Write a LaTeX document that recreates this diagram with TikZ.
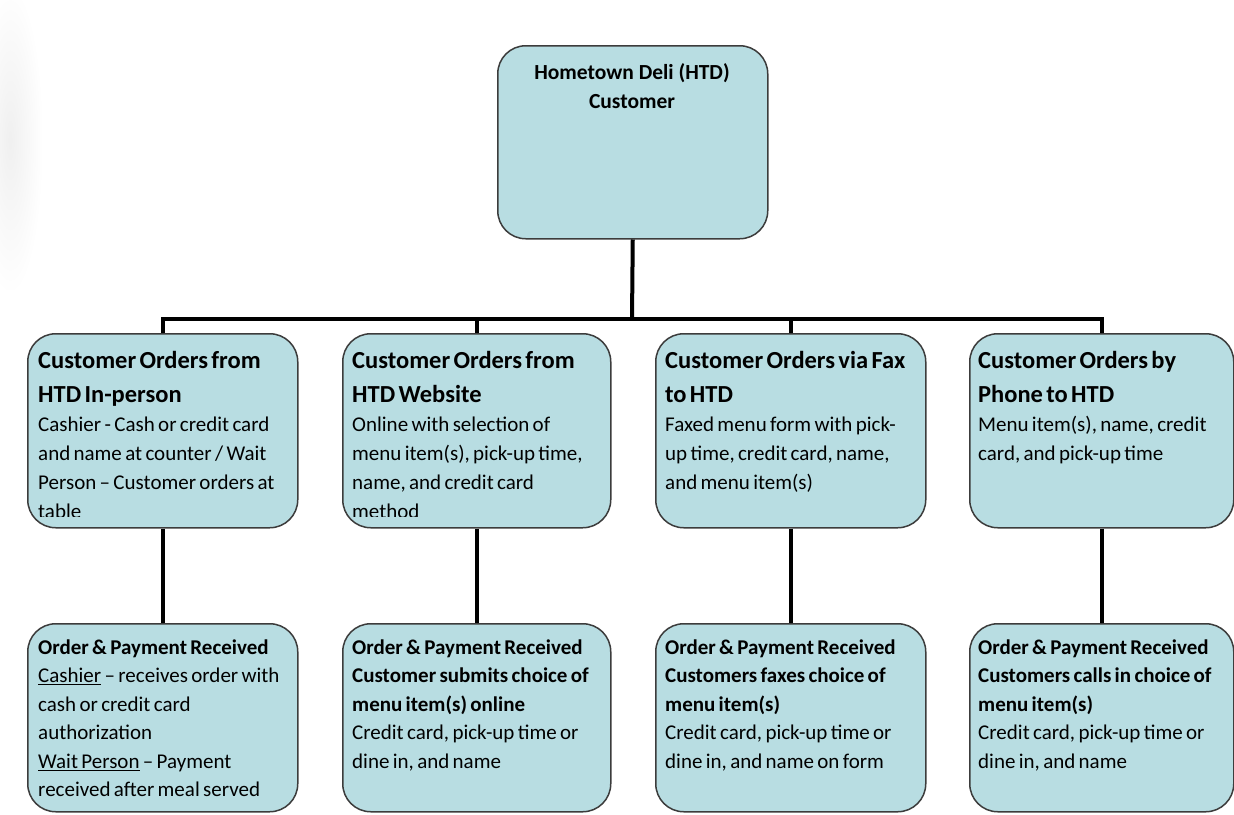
\documentclass[tikz,border=0pt]{standalone}
\usepackage{fontspec}
\setmainfont{Carlito}
\usetikzlibrary{fadings}
\definecolor{boxfill}{HTML}{B8DDE2}
\definecolor{boxline}{HTML}{3C3C3C}
\newcommand\mytitle{\fontsize{24.5}{34}\selectfont\bfseries}
\newcommand\mybody{\fontsize{21}{29}\selectfont}
\newcommand\mylow{\fontsize{21}{28.5}\selectfont}
\tikzfading[name=softedge, inner color=transparent!0, outer color=transparent!100]
\tikzset{
  box/.style={draw=boxline, line width=1.5pt, fill=boxfill, rounded corners=28pt,
              inner sep=0pt, anchor=north west},
  lvltwo/.style={box, minimum width=270pt, minimum height=194pt},
  lvlthree/.style={box, minimum width=270pt, minimum height=188pt},
  conn/.style={line width=4pt, draw=black},
  txt/.style={anchor=north west, inner sep=0pt, text width=300pt, align=left, text=black},
}
\begin{document}
\begin{tikzpicture}[x=1pt,y=-1pt]
\useasboundingbox[fill=white] (0,0) rectangle (1234,814);
\fill[black!6, path fading=softedge] (-22,-10) rectangle (42,290);

% boxes
\node[box, minimum width=270pt, minimum height=193pt] (top) at (497,45) {};
\node[lvltwo] (c1) at (27,333) {};
\node[lvltwo, minimum width=268pt] (c2) at (342,333) {};
\node[lvltwo] (c3) at (655,333) {};
\node[lvltwo, minimum width=264pt] (c4) at (969,333) {};
\node[lvlthree] (d1) at (27,623) {};
\node[lvlthree, minimum width=268pt] (d2) at (342,623) {};
\node[lvlthree] (d3) at (655,623) {};
\node[lvlthree, minimum width=264pt] (d4) at (969,623) {};

% connectors
\coordinate (bus) at (632,319);
\draw[conn] (top.south) -- (bus);
\draw[conn] (c1.north) |- (bus) -| (c4.north);
\draw[conn] (c2.north) -- (c2.north |- bus);
\draw[conn] (c3.north) -- (c3.north |- bus);
\draw[conn] (c1.south) -- (d1.north);
\draw[conn] (c2.south) -- (d2.north);
\draw[conn] (c3.south) -- (d3.north);
\draw[conn] (c4.south) -- (d4.north);

% top text
\node[anchor=north, inner sep=0pt, align=center,
      font=\fontsize{21.5}{29}\selectfont\bfseries] (toptxt) at (632,59)
  {\rule{0pt}{20pt}Hometown Deli (HTD)\\Customer};

% level two texts (clipped like the text boxes)
\begin{scope}
\clip (0,0) rectangle (1234,516.5);
\node[txt] (t1) at (38,348) {{\mytitle\rule{0pt}{20pt}Customer Orders from\\HTD In-person\par}%
  {\mybody Cashier - Cash or credit card\\and name at counter / Wait\\Person -- Customer orders at\\table\par}};
\node[txt] (t2) at (352,348) {{\mytitle\rule{0pt}{20pt}Customer Orders from\\HTD Website\par}%
  {\mybody Online with selection of\\menu item(s), pick-up time,\\name, and credit card\\method\par}};
\node[txt] (t3) at (665,348) {{\mytitle\rule{0pt}{20pt}Customer Orders via Fax\\to HTD\par}%
  {\mybody Faxed menu form with pick-\\up time, credit card, name,\\and menu item(s)\par}};
\node[txt] (t4) at (978,348) {{\mytitle\rule{0pt}{20pt}Customer Orders by\\Phone to HTD\par}%
  {\mybody Menu item(s), name, credit\\card, and pick-up time\par}};
\end{scope}

% level three texts
\node[txt] (u1) at (38,634) {\mylow\rule{0pt}{20pt}{\bfseries Order \& Payment Received}\\
  \underline{Cashier} -- receives order with\\cash or credit card\\authorization\\
  \underline{Wait Person} -- Payment\\received after meal served\par};
\node[txt] (u2) at (352,634) {\mylow\rule{0pt}{20pt}{\bfseries Order \& Payment Received\\
  Customer submits choice of\\menu item(s) online}\\Credit card, pick-up time or\\dine in, and name\par};
\node[txt] (u3) at (665,634) {\mylow\rule{0pt}{20pt}{\bfseries Order \& Payment Received\\
  Customers faxes choice of\\menu item(s)}\\Credit card, pick-up time or\\dine in, and name on form\par};
\node[txt] (u4) at (978,634) {\mylow\rule{0pt}{20pt}{\bfseries Order \& Payment Received\\
  Customers calls in choice of\\menu item(s)}\\Credit card, pick-up time or\\dine in, and name\par};
\end{tikzpicture}
\end{document}
